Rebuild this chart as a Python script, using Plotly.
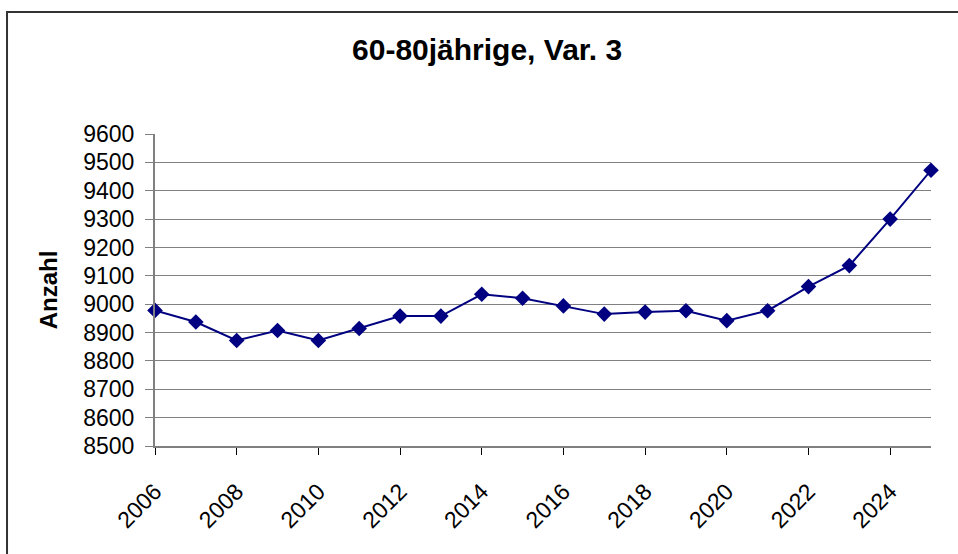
import plotly.graph_objects as go

# Values
years = list(range(2006, 2026))
anzahl = [8978, 8937, 8872, 8907, 8872, 8914, 8958, 8958, 9035, 9021,
          8994, 8965, 8972, 8977, 8942, 8977, 9062, 9136, 9300, 9472]

title_text = "60-80jährige, Var. 3"
y_title = "Anzahl"

navy = "#000080"
font_family = "Liberation Sans, Arial, sans-serif"

fig = go.Figure()
fig.add_trace(
    go.Scatter(
        x=years,
        y=anzahl,
        mode="lines+markers",
        line=dict(color=navy, width=2),
        marker=dict(symbol="diamond", size=12, color=navy),
        cliponaxis=False,
        showlegend=False,
    )
)

# outer chart frame (left and top edges visible, the rest runs off the page)
fig.add_shape(
    type="rect",
    xref="paper", yref="paper",
    x0=-0.1907, x1=1.2, y0=-0.6, y1=1.391,
    line=dict(color="#333333", width=2),
    layer="below",
)

fig.update_layout(
    width=958,
    height=554,
    margin=dict(l=155, r=27, t=134, b=108),
    paper_bgcolor="white",
    plot_bgcolor="white",
    font=dict(family=font_family, color="black", size=22),
    title=dict(
        text=f"<b>{title_text}</b>",
        x=0.428, xref="paper", xanchor="center",
        y=0.91, yref="container", yanchor="middle",
        font=dict(size=30, family=font_family, color="black"),
    ),
    xaxis=dict(
        range=[2006, 2025],
        tick0=2006,
        dtick=2,
        tickangle=-45,
        ticks="outside",
        ticklen=7,
        tickcolor="black",
        ticklabelstandoff=14,
        showline=True,
        linecolor="#808080",
        linewidth=2,
        showgrid=False,
        zeroline=False,
        tickfont=dict(size=23),
    ),
    yaxis=dict(
        range=[8500, 9600],
        dtick=100,
        ticks="outside",
        ticklen=8,
        tickcolor="#808080",
        ticklabelstandoff=6,
        showline=True,
        linecolor="#808080",
        linewidth=2,
        showgrid=True,
        gridcolor="#808080",
        gridwidth=1,
        zeroline=False,
        tickfont=dict(size=23),
        title=dict(text=f"<b>{y_title}</b>", font=dict(size=24), standoff=19),
    ),
)

fig.write_html(
    "out.html",
    config={"displayModeBar": False},
    post_script="document.body.style.margin='0';",
)
